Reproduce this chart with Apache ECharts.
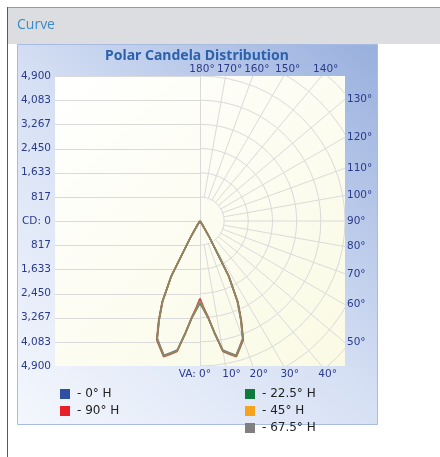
<!DOCTYPE html>
<html>
<head>
<meta charset="utf-8">
<script src="https://cdn.jsdelivr.net/npm/echarts@6/dist/echarts.min.js"></script>
<style>
    html, body { margin: 0; padding: 0; background: #fff; }
    #chart { width: 440px; height: 457px; }
</style>
</head>
<body>
<div id="chart"></div>
<script>
// 垂直角 VA (°)
const vaAngles = [0, 2.5, 5, 7.5, 10, 12.5, 15, 17.5, 20, 22.5, 25, 27.5, 30, 32.5, 35, 40, 50, 60, 70, 80, 90];
// 各 H 平面光强 (cd)
const cdH0   = [2640, 2950, 3280, 3810, 4430, 4560, 4700, 4450, 4220, 3590, 2970, 2070, 620, 150, 0, 0, 0, 0, 0, 0, 0];
const cdH225 = [2780, 3020, 3320, 3850, 4460, 4590, 4730, 4480, 4250, 3630, 3010, 2110, 650, 160, 0, 0, 0, 0, 0, 0, 0];
const cdH45  = [2690, 2980, 3300, 3830, 4450, 4580, 4720, 4470, 4240, 3610, 2990, 2090, 640, 150, 0, 0, 0, 0, 0, 0, 0];
const cdH675 = [2700, 2990, 3310, 3840, 4450, 4580, 4720, 4470, 4240, 3620, 3000, 2100, 640, 150, 0, 0, 0, 0, 0, 0, 0];
const cdH90  = [2620, 2940, 3300, 3850, 4480, 4610, 4750, 4500, 4280, 3660, 3040, 2140, 670, 170, 0, 0, 0, 0, 0, 0, 0];

// 坐标刻度
const cdMax = 4900;
const cdTicks = [0, 817, 1633, 2450, 3267, 4083, 4900];
const arcRadii = [817, 1633, 2450, 3267, 4083, 4900, 5717, 6533];
const gridAngles = [10, 20, 30, 40, 50, 60, 70, 80, 90, 100, 110, 120, 130, 140, 150, 160, 170];
const labelAngles = [0, 10, 20, 30, 40, 50, 60, 70, 80, 90, 100, 110, 120, 130, 140, 150, 160, 170, 180];

const plot = { left: 55, top: 76, size: 290 };
const labelFont = '10.5px "DejaVu Sans"';
const labelColor = '#2a3a8c';
const gridColor = '#dadada';

// 左半边镜像 + 右半边
function toPolar(values) {
    const left = vaAngles.map((a, i) => [values[i], 360 - a]).reverse();
    const right = vaAngles.map((a, i) => [values[i], a]);
    return left.concat(right);
}

// 极坐标网格（右半）和水平网格（左半）
function renderGrid(params, api) {
    const style = { stroke: gridColor, lineWidth: 1, fill: null };
    const children = [];
    const o = api.coord([0, 0]);
    const top = api.coord([0, cdMax]);
    const bottom = api.coord([0, -cdMax]);
    cdTicks.forEach(v => {
        [v, -v].forEach(y => {
            const a = api.coord([-cdMax, y]);
            const py = Math.round(a[1]) + 0.5;
            children.push({ type: 'line', shape: { x1: a[0], y1: py, x2: o[0], y2: py }, style });
        });
    });
    const cx = Math.round(o[0]) + 0.5;
    children.push({ type: 'line', shape: { x1: cx, y1: top[1], x2: cx, y2: bottom[1] }, style });
    arcRadii.forEach(r => {
        children.push({
            type: 'arc',
            shape: { cx: o[0], cy: o[1], r: api.size([r, 0])[0], startAngle: -Math.PI / 2, endAngle: Math.PI / 2, clockwise: true },
            style
        });
    });
    gridAngles.forEach(a => {
        const rad = a * Math.PI / 180;
        const p1 = api.coord([arcRadii[0] * Math.sin(rad), -arcRadii[0] * Math.cos(rad)]);
        const p2 = api.coord([9000 * Math.sin(rad), -9000 * Math.cos(rad)]);
        children.push({ type: 'line', shape: { x1: p1[0], y1: p1[1], x2: p2[0], y2: p2[1] }, style });
    });
    return { type: 'group', children };
}

// 角度标签，放在绘图区边框上
function renderLabel(params, api) {
    const va = labelAngles[params.dataIndex];
    const rad = va * Math.PI / 180;
    const dx = Math.sin(rad);
    const dy = -Math.cos(rad);
    const tx = Math.abs(dx) > 1e-9 ? cdMax / Math.abs(dx) : Infinity;
    const ty = Math.abs(dy) > 1e-9 ? cdMax / Math.abs(dy) : Infinity;
    const t = Math.min(tx, ty);
    const p = api.coord([dx * t, dy * t]);
    let x = p[0], y = p[1], align = 'left', vAlign = 'middle';
    let text = va + '°';
    if (ty <= tx) {
        align = 'center';
        if (dy > 0) {
            y -= 1;
            vAlign = 'bottom';
            x += va === 180 ? 2 : 4;
        } else {
            y += 3;
            vAlign = 'top';
            x += 6;
            if (va === 0) {
                text = 'VA: 0°';
                align = 'right';
                x += 5;
            }
        }
    } else {
        x += 2;
    }
    return {
        type: 'text',
        x, y,
        style: {
            text, fill: labelColor, font: labelFont,
            align, verticalAlign: vAlign,
            textAlign: align, textVerticalAlign: vAlign
        }
    };
}

const chart = echarts.init(document.getElementById('chart'));
const center = [plot.left + plot.size / 2, plot.top + plot.size / 2];

chart.setOption({
    animation: false,
    graphic: [
        { type: 'rect', z: 0, shape: { x: 7, y: 7, width: 433, height: 37 }, style: { fill: '#dcdde0' } },
        { type: 'line', z: 0, shape: { x1: 7, y1: 7.5, x2: 440, y2: 7.5 }, style: { stroke: '#9a9a9a', lineWidth: 1 } },
        { type: 'line', z: 0, shape: { x1: 7.5, y1: 7, x2: 7.5, y2: 457 }, style: { stroke: '#5a5a5a', lineWidth: 1 } },
        {
            type: 'text', z: 10, x: 17, y: 25,
            style: { text: 'Curve', fill: '#3a8bcb', font: '14px "Open Sans"', verticalAlign: 'middle', textVerticalAlign: 'middle' }
        },
        {
            type: 'rect', z: 0,
            shape: { x: 17.5, y: 44.5, width: 360, height: 380 },
            style: {
                stroke: '#a8bbe2', lineWidth: 1,
                fill: new echarts.graphic.LinearGradient(0, 1, 1, 0, [
                    { offset: 0, color: '#f4f7fd' },
                    { offset: 0.5, color: '#d6e0f4' },
                    { offset: 1, color: '#98afdd' }
                ])
            }
        },
        {
            type: 'text', z: 10, x: 197, y: 56,
            style: {
                text: 'Polar Candela Distribution', fill: '#2c62ad',
                font: 'bold 14px "Noto Sans"',
                align: 'center', verticalAlign: 'middle', textAlign: 'center', textVerticalAlign: 'middle'
            }
        }
    ],
    grid: {
        left: plot.left, top: plot.top, width: plot.size, height: plot.size,
        show: true, borderWidth: 0, z: 2,
        backgroundColor: new echarts.graphic.LinearGradient(0, 0, 1, 1, [
            { offset: 0, color: '#ffffff' },
            { offset: 1, color: '#fafae4' }
        ])
    },
    xAxis: { type: 'value', min: -cdMax, max: cdMax, show: false },
    yAxis: {
        type: 'value', min: -cdMax, max: cdMax, interval: cdMax / 6, z: 5,
        axisLine: { show: false }, axisTick: { show: false }, splitLine: { show: false },
        axisLabel: {
            margin: 4, color: labelColor, fontFamily: 'DejaVu Sans', fontSize: 10.5,
            showMinLabel: true, showMaxLabel: true,
            formatter: v => {
                const r = Math.round(Math.abs(v));
                return r === 0 ? 'CD: 0' : r.toLocaleString('en-US');
            }
        }
    },
    polar: { center: center, radius: plot.size / 2 },
    radiusAxis: { type: 'value', min: 0, max: cdMax, show: false, axisLine: { show: false }, axisLabel: { show: false }, splitLine: { show: false } },
    angleAxis: { type: 'value', min: 0, max: 360, startAngle: -90, clockwise: false, show: false, axisLine: { show: false }, axisLabel: { show: false }, splitLine: { show: false } },
    legend: [{
        data: ['0° H', '90° H'],
        orient: 'vertical', left: 55, top: 383,
        icon: 'rect', itemWidth: 10, itemHeight: 10, itemGap: 5,
        itemStyle: { opacity: 1 },
        formatter: '- {name}',
        textStyle: { color: '#222', fontFamily: 'DejaVu Sans', fontSize: 12, lineHeight: 10, padding: [0, 0, 0, 2] }
    }, {
        data: ['22.5° H', '45° H', '67.5° H'],
        orient: 'vertical', left: 240, top: 383,
        icon: 'rect', itemWidth: 10, itemHeight: 10, itemGap: 5,
        itemStyle: { opacity: 1 },
        formatter: '- {name}',
        textStyle: { color: '#222', fontFamily: 'DejaVu Sans', fontSize: 12, lineHeight: 10, padding: [0, 0, 0, 2] }
    }],
    series: [{
        type: 'custom', coordinateSystem: 'cartesian2d', clip: true, z: 3, silent: true,
        data: [[0, 0]],
        renderItem: renderGrid
    }, {
        type: 'custom', coordinateSystem: 'cartesian2d', clip: false, z: 3, silent: true,
        data: labelAngles.map(a => [0, 0]),
        renderItem: renderLabel
    }, {
        name: '0° H', type: 'line', coordinateSystem: 'polar', z: 4,
        showSymbol: false, data: toPolar(cdH0),
        itemStyle: { color: '#2f4fa3' }, lineStyle: { width: 1.6, opacity: 0.8 }
    }, {
        name: '90° H', type: 'line', coordinateSystem: 'polar', z: 4,
        showSymbol: false, data: toPolar(cdH90),
        itemStyle: { color: '#e8202a' }, lineStyle: { width: 1.6, opacity: 0.8 }
    }, {
        name: '22.5° H', type: 'line', coordinateSystem: 'polar', z: 4,
        showSymbol: false, data: toPolar(cdH225),
        itemStyle: { color: '#107a3c' }, lineStyle: { width: 1.6, opacity: 0.8 }
    }, {
        name: '45° H', type: 'line', coordinateSystem: 'polar', z: 4,
        showSymbol: false, data: toPolar(cdH45),
        itemStyle: { color: '#f7a21c' }, lineStyle: { width: 1.6, opacity: 0.7 }
    }, {
        name: '67.5° H', type: 'line', coordinateSystem: 'polar', z: 4,
        showSymbol: false, data: toPolar(cdH675),
        itemStyle: { color: '#808080' }, lineStyle: { width: 1.6, opacity: 0.7 }
    }]
});
</script>
</body>
</html>
